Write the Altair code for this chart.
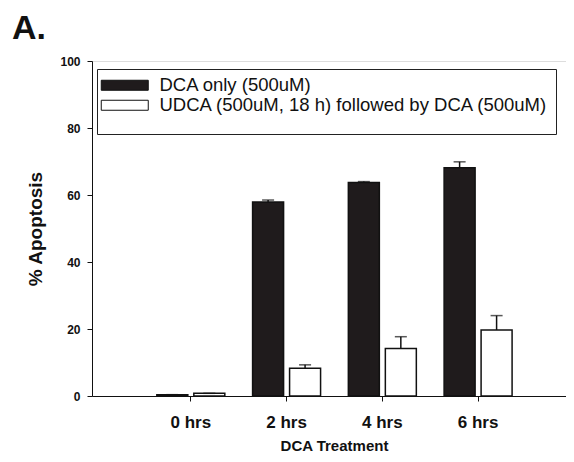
import altair as alt
import pandas as pd

times = ["0 hrs", "2 hrs", "4 hrs", "6 hrs"]
series = ["DCA only (500uM)", "UDCA (500uM, 18 h) followed by DCA (500uM)"]
dca = [0.4, 57.9, 63.7, 68.1]
dca_err = [0.0, 0.6, 0.3, 1.8]
udca = [0.8, 8.3, 14.2, 19.7]
udca_err = [0.0, 1.0, 3.5, 4.3]
panel_label = ["A."]

rows = []
for i, t in enumerate(times):
    rows.append({"time": t, "series": series[0], "value": dca[i], "top": dca[i] + dca_err[i]})
    rows.append({"time": t, "series": series[1], "value": udca[i], "top": udca[i] + udca_err[i]})
df = pd.DataFrame(rows)

FONT = "Liberation Sans"
DARK = "#1f1b1c"
INK = "#111111"

xscale = alt.Scale(domain=times, paddingInner=0.29, paddingOuter=0.62, align=0.546)
offscale = alt.Scale(domain=series, paddingInner=0.162, paddingOuter=0)

x = alt.X("time:N", scale=xscale, sort=times,
          axis=alt.Axis(title="DCA Treatment", labelAngle=0, labelFont=FONT, labelFontSize=17,
                        labelFontWeight="bold", labelColor=INK, labelBaseline="alphabetic",
                        labelPadding=26, tickSize=5, tickColor=INK, domainColor=INK,
                        titleFont=FONT, titleFontSize=15, titleFontWeight="bold", titleColor=INK,
                        titleBaseline="alphabetic", titleX=242, titleY=54))
xo = alt.XOffset("series:N", scale=offscale, sort=series)
y_axis = alt.Axis(title="% Apoptosis", values=[0, 20, 40, 60, 80, 100], grid=False,
                  labelFont=FONT, labelFontSize=12, labelFontWeight="bold", labelColor=INK,
                  labelPadding=7, tickSize=5, tickColor=INK, domainColor=INK,
                  titleFont=FONT, titleFontSize=19, titleFontWeight="bold", titleColor=INK,
                  titleAngle=270, titleAlign="center", titleBaseline="middle",
                  titleX=-57, titleY=167.5)
yscale = alt.Scale(domain=[0, 100], nice=False)

color = alt.Color("series:N", scale=alt.Scale(domain=series, range=[DARK, "#ffffff"]),
                  legend=alt.Legend(title=" ", titleOrient="bottom", titleFontSize=10, titlePadding=2,
                                    orient="none", legendX=5, legendY=8, padding=7,
                                    strokeColor="#222", fillColor="#ffffff",
                                    symbolType="M-2.4,-1H7V1H-2.4Z",
                                    symbolSize=100, symbolStrokeColor=INK, symbolStrokeWidth=1,
                                    labelOffset=37, labelFont=FONT, labelFontSize=18.5,
                                    labelColor=INK, rowPadding=1, labelLimit=600))

bars = alt.Chart(df).mark_bar(stroke=INK, strokeWidth=1.5).encode(
    x=x, xOffset=xo, y=alt.Y("value:Q", scale=yscale, axis=y_axis), color=color)

rules = alt.Chart(df).mark_rule(color=INK, strokeWidth=1.5).encode(
    x=alt.X("time:N", scale=xscale, sort=times), xOffset=xo,
    y=alt.Y("value:Q", scale=yscale), y2="top:Q")

caps = alt.Chart(df).mark_tick(color=INK, thickness=1.5, size=12, orient="horizontal").encode(
    x=alt.X("time:N", scale=xscale, sort=times), xOffset=xo,
    y=alt.Y("top:Q", scale=yscale))

label = alt.Chart(pd.DataFrame({"t": panel_label})).mark_text(
    font=FONT, fontSize=34, fontWeight="bold", color=INK, align="left", baseline="alphabetic"
).encode(text="t:N", x=alt.value(-80), y=alt.value(-22))

chart = alt.layer(bars, rules, caps, label).properties(
    width=474, height=335,
    autosize=alt.AutoSizeParams(type="none"),
    padding={"left": 84, "top": 53, "right": 0, "bottom": 58},
).configure_view(stroke=INK, strokeWidth=1).configure(background="white")

chart.save("out.html", embed_options={"renderer": "svg", "actions": False})
